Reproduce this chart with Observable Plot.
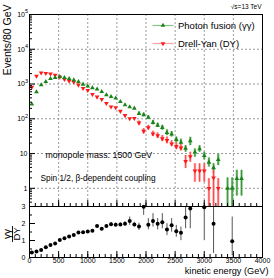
<!DOCTYPE html>
<html><head><meta charset="utf-8">
<script src="https://cdn.jsdelivr.net/npm/d3@7"></script>
<script src="https://cdn.jsdelivr.net/npm/@observablehq/plot@0.6"></script>
<style>html,body{margin:0;padding:0;background:#fff}#chart svg{display:block}</style>
</head><body><div id="chart"></div><script>
// ---- data ----
const binCenters = [40,120,200,280,360,440,520,600,680,760,840,920,1000,1080,1160,1240,1320,1400,1480,1560,1640,1720,1800,1880,1960,2040,2120,2200,2280,2360,2440,2520,2600,2680,2760,2840,2920,3000,3080,3160,3240,3320,3400,3480,3560,3640];
const photonFusion = [263,590,940,1170,1420,1520,1620,1520,1420,1300,1170,980,870,780,710,600,485,435,390,310,250,220,200,140,130,109,78,65,56,40,36,25,21,14,23,11,13.6,8.7,5.6,3.9,6.7,null,1,1,1.9,1.9];
const drellYan = [820,1700,2100,2040,1960,1800,1590,1360,1220,1140,940,750,660,505,425,365,280,220,210,165,125,102,103,76,44,56,37,33,27,24,19,16,14.5,6,8.2,3.2,3.2,3.2,1,2,1,null,null,null,null,null];

const pfErrBins = [1880,1960,2040,2120,2200,2280,2360,2440,2520,2600,2680,2760,2840,2920,3000,3080,3160,3240,3400,3480,3560,3640];
const pfErrLo = [125,115,95,67,56,47,33,30,20,17,10.9,16.9,7.8,10.9,6.6,4.1,2.6,4.5,0.1,0.1,0.6,0.6];
const pfErrHi = [158,145,123,90,75,65,48,43,30,26,16.9,29.4,13.6,16.9,10.9,7.5,5.1,9.8,2.0,2.0,3.3,3.3];

const dyErrBins = [1880,1960,2040,2120,2200,2280,2360,2440,2520,2600,2680,2760,2840,2920,3000,3080,3160,3240];
const dyErrLo = [66,37,48,31,27,22,19,15.8,13,12,3.7,5.6,1.5,1.5,1.5,0.1,0.1,0.1];
const dyErrHi = [86,52,65,44,39,33,30,23.4,20,18,8.8,10.9,5.1,5.1,5.1,1.9,3.3,1.9];

const ratioBins = [40,120,200,280,360,440,520,600,680,760,840,920,1000,1080,1160,1240,1320,1400,1480,1560,1640,1720,1800,1880,1960,2040,2120,2200,2280,2360,2440,2520,2600,2680,2760,3000,3160,3480];
const ratio = [0.3,0.36,0.44,0.6,0.74,0.83,1.03,1.13,1.23,1.33,1.47,1.49,1.53,1.57,1.85,1.69,1.85,1.96,1.93,1.94,1.99,2.14,1.94,1.83,2.98,1.93,2.14,1.99,2.08,1.65,1.89,1.55,1.45,2.35,2.88,2.95,1.99,0.95];
const ratioErrBins = [1400,1480,1560,1640,1720,1800,1880,1960,2040,2120,2200,2280,2360,2440,2520,2600,2680,2760,3000,3160,3480];
const ratioErrLo = [1.86,1.83,1.84,1.87,1.89,1.81,1.59,2.48,1.63,1.79,1.63,1.69,1.29,1.49,1.19,0.99,1.69,1.69,0.99,0.24,0.1];
const ratioErrHi = [2.06,2.03,2.04,2.11,2.38,2.07,2.02,3.3,2.29,2.58,2.29,2.58,1.99,2.29,1.89,1.79,3.3,3.3,3.3,3.3,2.38];

const seriesNames = ["Photon fusion (γγ)", "Drell-Yan (DY)"];
const xTickLabels = [0,500,1000,1500,2000,2500,3000,3500,4000];
const yDecades = [1,10,100,1000,10000,100000];
const ratioTicks = [0,1,2,3];
const energyTitle = "kinetic energy (GeV)";
const eventsTitle = "Events/80 GeV";
const notes = ["monopole mass: 1500 GeV", "Spin 1/2, β-dependent coupling"];
const energyLabel = "√s=13 TeV";

// ---- styling ----
const FONT = "'Liberation Sans', Arial, Helvetica, sans-serif";
const GREEN = "#1a841a", GREEN_L = "#86c486";
const RED = "#ff1a1a", RED_L = "#ffa3a3";
const W = 274, ML = 29, MR = 12;

const pf = binCenters.map((e,i)=>({e, v: photonFusion[i]})).filter(d=>d.v!=null);
const dyd = binCenters.map((e,i)=>({e, v: drellYan[i]})).filter(d=>d.v!=null);
const pfErr = pfErrBins.map((e,i)=>({e, lo: pfErrLo[i], hi: pfErrHi[i]}));
const dyErr = dyErrBins.map((e,i)=>({e, lo: dyErrLo[i], hi: dyErrHi[i]}));
const rat = ratioBins.map((e,i)=>({e, v: ratio[i]}));
const ratErr = ratioErrBins.map((e,i)=>({e, lo: ratioErrLo[i], hi: ratioErrHi[i]}));

const xMinor = d3.range(0, 4001, 100);
const xMajor = d3.range(0, 4001, 500);
const yMinor = [];
for (const d of [0.1,1,10,100,1000,10000]) for (let k=2;k<=9;k++){const v=d*k; if(v>=0.3&&v<=1e5) yMinor.push(v);}

const triDown = {draw(ctx, size){const y=-Math.sqrt(size/(Math.sqrt(3)*3)); ctx.moveTo(0,-y*2); ctx.lineTo(-Math.sqrt(3)*y, y); ctx.lineTo(Math.sqrt(3)*y, y); ctx.closePath();}};
const hline = {draw(ctx){ctx.moveTo(-10.5,0); ctx.lineTo(10.5,0);}};
const R = 1.75;

const H1 = 206, MT1 = 14;
const frameH1 = H1 - MT1, frameW = W - ML - MR;

const topPanel = Plot.plot({
  width: W, height: H1, marginTop: MT1, marginBottom: 0, marginLeft: ML, marginRight: MR,
  style: {fontFamily: FONT, background: "white", overflow: "visible", color: "black"},
  x: {domain: [0, 4000], axis: null},
  y: {type: "log", domain: [0.3, 1e5], axis: null},
  marks: [
    Plot.ruleX(xMajor.slice(1, -1), {stroke: "#9a9a9a", strokeDasharray: "2,2"}),
    Plot.ruleY(yDecades.slice(0, -1), {stroke: "#9a9a9a", strokeDasharray: "2,2"}),
    Plot.ruleX(pfErr, {x: "e", y1: "lo", y2: "hi", stroke: GREEN_L, strokeWidth: 2.4, clip: true}),
    Plot.ruleX(pfErr, {x: "e", y1: "lo", y2: "hi", stroke: GREEN, strokeWidth: 0.7, clip: true}),
    Plot.ruleX(dyErr, {x: "e", y1: "lo", y2: "hi", stroke: RED_L, strokeWidth: 2.4, clip: true}),
    Plot.ruleX(dyErr, {x: "e", y1: "lo", y2: "hi", stroke: RED, strokeWidth: 0.7, clip: true}),
    Plot.dot(dyd, {x: "e", y: "v", symbol: triDown, r: R, fill: RED, stroke: null}),
    Plot.dot(pf, {x: "e", y: "v", symbol: "triangle", r: R, fill: GREEN, stroke: null}),
    Plot.frame({stroke: "black"}),
    Plot.tickX(xMinor, {x: d=>d, insetTop: frameH1 - 3, stroke: "black"}),
    Plot.tickX(xMajor, {x: d=>d, insetTop: frameH1 - 6, stroke: "black"}),
    Plot.tickY(yMinor, {y: d=>d, insetRight: frameW - 3, stroke: "black"}),
    Plot.tickY(yDecades, {y: d=>d, insetRight: frameW - 6, stroke: "black"}),
    Plot.text(yDecades.filter(d=>d>=100), {y: d=>d, text: () => "10", frameAnchor: "left", textAnchor: "end", dx: -4.5, fontSize: 7}),
    Plot.text(yDecades.filter(d=>d>=100), {y: d=>d, text: d => String(Math.round(Math.log10(d))), frameAnchor: "left", textAnchor: "start", dx: -4.5, dy: -3, fontSize: 5.5}),
    Plot.text(yDecades.filter(d=>d<100), {y: d=>d, text: d => String(d), frameAnchor: "left", textAnchor: "end", dx: -2, fontSize: 7}),
    Plot.text([eventsTitle], {text: d=>d, frameAnchor: "top-left", rotate: -90, textAnchor: "end", lineAnchor: "middle", dx: 7 - ML, dy: 4 - MT1, fontSize: 10.5}),
    Plot.text([energyLabel], {text: d=>d, frameAnchor: "top-right", textAnchor: "end", lineAnchor: "middle", dx: -1, dy: 6 - MT1, fontSize: 6.5}),
    // legend
    Plot.dot([0], {frameAnchor: "top-left", dx: 162.5 - ML, dy: 25 - MT1, symbol: hline, stroke: GREEN_L, strokeWidth: 1.2}),
    Plot.dot([0], {frameAnchor: "top-left", dx: 162.5 - ML, dy: 25 - MT1, symbol: "triangle", r: R, fill: GREEN, stroke: null}),
    Plot.dot([0], {frameAnchor: "top-left", dx: 162.5 - ML, dy: 43 - MT1, symbol: hline, stroke: RED_L, strokeWidth: 1.2}),
    Plot.dot([0], {frameAnchor: "top-left", dx: 162.5 - ML, dy: 43 - MT1, symbol: triDown, r: R, fill: RED, stroke: null}),
    Plot.text([seriesNames[0]], {text: d=>d, frameAnchor: "top-left", textAnchor: "start", lineAnchor: "middle", dx: 177.5 - ML, dy: 25 - MT1, fontSize: 9.5}),
    Plot.text([seriesNames[1]], {text: d=>d, frameAnchor: "top-left", textAnchor: "start", lineAnchor: "middle", dx: 177.5 - ML, dy: 43 - MT1, fontSize: 9.5}),
    Plot.text([notes[0]], {text: d=>d, frameAnchor: "top-left", textAnchor: "start", lineAnchor: "middle", dx: 45 - ML, dy: 155 - MT1, fontSize: 8.8}),
    Plot.text([notes[1]], {text: d=>d, frameAnchor: "top-left", textAnchor: "start", lineAnchor: "middle", dx: 40 - ML, dy: 178 - MT1, fontSize: 8.3})
  ]
});

const H2 = 72, MB2 = 21;
const frameH2 = H2 - MB2;
const bottomPanel = Plot.plot({
  width: W, height: H2, marginTop: 0, marginBottom: MB2, marginLeft: ML, marginRight: MR,
  style: {fontFamily: FONT, background: "transparent", overflow: "visible", color: "black"},
  x: {domain: [0, 4000], axis: null},
  y: {domain: [0, 3], axis: null},
  marks: [
    Plot.ruleX(ratErr, {x: "e", y1: "lo", y2: "hi", stroke: "#555", strokeWidth: 1, clip: true}),
    Plot.dot(rat, {x: "e", y: "v", r: 2, fill: "black", stroke: null}),
    Plot.frame({stroke: "black"}),
    Plot.tickX(xMinor, {x: d=>d, insetTop: frameH2 - 3, stroke: "black"}),
    Plot.tickX(xMajor, {x: d=>d, insetTop: frameH2 - 6, stroke: "black"}),
    Plot.tickY(d3.range(0, 3.01, 0.5), {y: d=>d, insetRight: frameW - 3, stroke: "black"}),
    Plot.tickY(ratioTicks, {y: d=>d, insetRight: frameW - 6, stroke: "black"}),
    Plot.text(ratioTicks, {y: d=>d, text: d=>String(d), frameAnchor: "left", textAnchor: "end", dx: -4, fontSize: 7}),
    Plot.text(xTickLabels, {x: d=>d, text: d=>String(d), frameAnchor: "bottom", lineAnchor: "top", dy: 1, fontSize: 7}),
    Plot.text([energyTitle], {text: d=>d, frameAnchor: "bottom-right", textAnchor: "end", lineAnchor: "middle", dx: 6, dy: 13.5, fontSize: 9.2}),
    Plot.text(["γγ"], {text: d=>d, frameAnchor: "left", rotate: -90, textAnchor: "middle", lineAnchor: "middle", dx: 7.5 - ML, dy: 2, fontSize: 10}),
    Plot.dot([0], {frameAnchor: "left", dx: 12 - ML, dy: 2, symbol: {draw(ctx){ctx.moveTo(0,-8); ctx.lineTo(0,8);}}, stroke: "black", strokeWidth: 0.9}),
    Plot.text(["DY"], {text: d=>d, frameAnchor: "left", rotate: -90, textAnchor: "middle", lineAnchor: "middle", dx: 16.5 - ML, dy: 2, fontSize: 9.5})
  ]
});

const c = document.getElementById("chart");
c.appendChild(topPanel);
c.appendChild(bottomPanel);
</script></body></html>
